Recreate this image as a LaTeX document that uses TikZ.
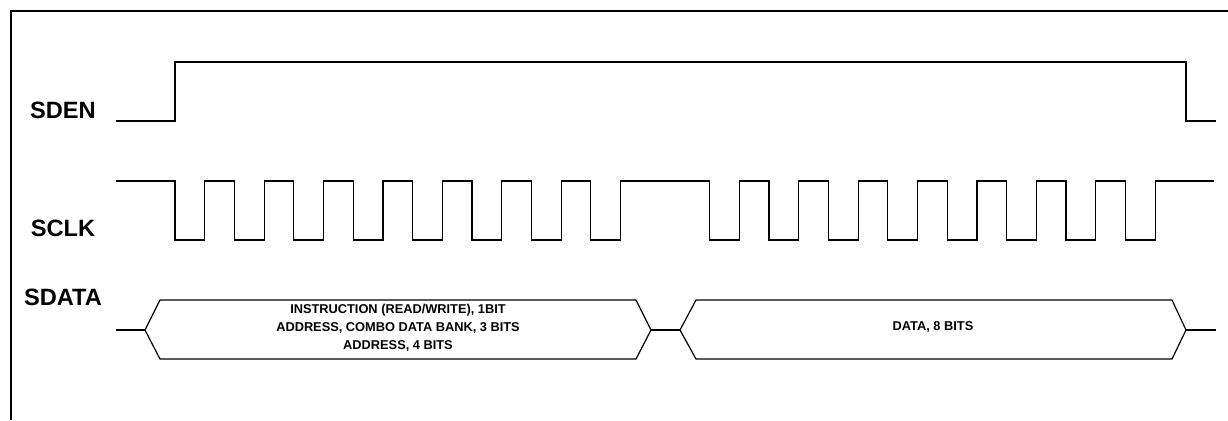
\documentclass[tikz,border=0pt]{standalone}
\usepackage{fontspec}
\setmainfont{Liberation Sans}
\begin{document}
\begin{tikzpicture}[x=0.5pt,y=-0.5pt,line width=0.6pt,
  siglabel/.style={font=\bfseries\fontsize{11.8}{13}\selectfont},
  fieldtext/.style={font=\bfseries\fontsize{6.4}{9}\selectfont,align=center}]
  \useasboundingbox (0,0) rectangle (1228,420);
  % frame
  \draw[line width=1.4pt] (11,420) -- (11,11) -- (1228,11);
  % signal names
  \node[siglabel] (sden) at (63,110) {SDEN};
  \node[siglabel] (sclk) at (63,228) {SCLK};
  \node[siglabel] (sdata) at (63,297) {SDATA};
  % SDEN
  \draw (116,121) -- (175,121) -- (175,62) -- (1186,62) -- (1186,121) -- (1216,121);
  % SCLK, one pulse left out between the two bytes
  \draw (116,181) foreach \k in {0,1,2,3,4,5,6,7,9,10,11,12,13,14,15,16}
    { -- ({175+59.4*\k},181) -- ++(0,59) -- ++(29.7,0) -- ++(0,-59) } -- (1214,181);
  % SDATA
  \draw (116,330) -- (145,330);
  \draw (145,330) -- (160,300) -- (636,300) -- (651,330) -- (636,359) -- (160,359) -- cycle;
  \draw (651,330) -- (680,330);
  \draw (680,330) -- (696,300) -- (1172,300) -- (1186,330) -- (1172,359) -- (696,359) -- cycle;
  \draw (1186,330) -- (1216,330);
  \node[fieldtext] (instr) at (398,328) {INSTRUCTION (READ/WRITE), 1BIT\\ADDRESS, COMBO DATA BANK, 3 BITS\\ADDRESS, 4 BITS};
  \node[fieldtext] (data) at (933,327) {DATA, 8 BITS};
\end{tikzpicture}
\end{document}
